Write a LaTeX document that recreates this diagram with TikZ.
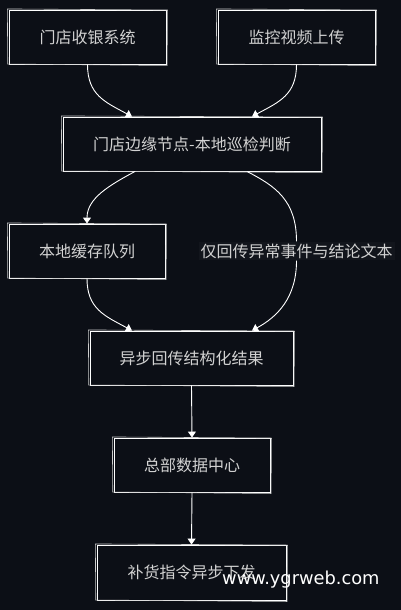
\documentclass[tikz,border=0pt]{standalone}
\usepackage{fontspec}
\setmainfont{Noto Sans CJK SC}
\newfontfamily\wmfont{DejaVu Sans}
\usetikzlibrary{arrows.meta}
\definecolor{bgc}{HTML}{0C0F16}
\definecolor{lblbg}{HTML}{12151C}
\definecolor{txt}{HTML}{D2D2D2}
\tikzset{
  box/.style={rectangle, draw=white, line width=0.9pt, fill=bgc, text=txt,
    inner sep=0pt, minimum height=54pt, font=\fontsize{16}{19}\selectfont},
  skline/.style={draw=white!80!black, line width=0.6pt},
  arr/.style={draw=white, line width=0.9pt, -{Triangle[length=6pt,width=8pt]}},
  lbl/.style={fill=lblbg, text=txt, inner sep=2pt, font=\fontsize{16}{19}\selectfont}
}
\newcommand\skbox[1]{\draw[skline] ([shift={(-1.2,-0.6)}]#1.north west) -- ([shift={(1.0,0.5)}]#1.north east) -- ([shift={(0.6,1.0)}]#1.south east) -- ([shift={(-0.8,-0.4)}]#1.south west) -- cycle;}
\begin{document}
\begin{tikzpicture}[x=1pt,y=-1pt]
\fill[bgc] (0,0) rectangle (401,610);
\useasboundingbox (0,0) rectangle (401,610);
\node[box, minimum width=157pt] (b1) at (87.5,37) {门店收银系统};
\node[box, minimum width=157pt] (b2) at (296.5,37) {监控视频上传};
\node[box, minimum width=258pt] (b3) at (192,144) {门店边缘节点-本地巡检判断};
\node[box, minimum width=156pt] (b4) at (87,251) {本地缓存队列};
\node[lbl] (l1) at (296.5,251) {仅回传异常事件与结论文本};
\node[box, minimum width=203pt] (b5) at (191.5,358) {异步回传结构化结果};
\node[box, minimum width=156pt] (b6) at (192,465) {总部数据中心};
\node[box, minimum width=189pt, minimum height=55pt] (b7) at (191.5,572.5) {补货指令异步下发};
\skbox{b1}\skbox{b2}\skbox{b3}\skbox{b4}\skbox{b5}\skbox{b6}\skbox{b7}
\coordinate (b3inL) at ([xshift=-60pt]b3.north);
\coordinate (b3inR) at ([xshift=60pt]b3.north);
\coordinate (b3outL) at ([xshift=-57pt]b3.south);
\coordinate (b3outR) at ([xshift=55pt]b3.south);
\coordinate (b5inL) at ([xshift=-59.5pt]b5.north);
\coordinate (b5inR) at ([xshift=60.5pt]b5.north);
\draw[arr] (b1.south) .. controls (87.5,95) and (105,102) .. (b3inL);
\draw[arr] (b2.south) .. controls (296.5,95) and (279,102) .. (b3inR);
\draw[arr] (b3outL) .. controls (110,185) and (87,198) .. (b4.north);
\draw[draw=white, line width=0.9pt] (b3outR) .. controls (275,186) and (296.5,200) .. (l1.north);
\draw[arr] (l1.south) .. controls (296.5,298) and (277,317) .. (b5inR);
\draw[arr] (b4.south) .. controls (87,309) and (105,316) .. (b5inL);
\draw[arr] (b5.south) -- (b6.north);
\draw[arr] (b6.south) -- (b7.north);
\node[anchor=base west, inner sep=0pt, text=white, font=\wmfont\fontsize{17.8}{21}\selectfont] (wm) at (222,584) {www.ygrweb.com};
\end{tikzpicture}
\end{document}
